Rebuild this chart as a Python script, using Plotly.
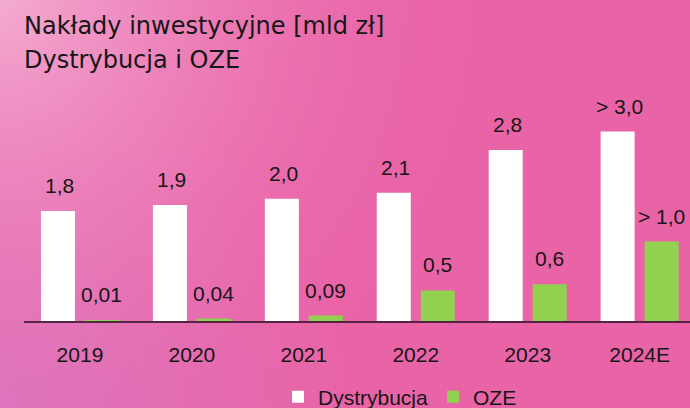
import base64

import plotly.graph_objects as go

# data
years = ["2019", "2020", "2021", "2022", "2023", "2024E"]
dystrybucja = [1.8, 1.9, 2.0, 2.1, 2.8, 3.1]
oze = [0.01, 0.04, 0.09, 0.5, 0.6, 1.3]
dystrybucja_labels = ["1,8", "1,9", "2,0", "2,1", "2,8", "> 3,0"]
oze_labels = ["0,01", "0,04", "0,09", "0,5", "0,6", "> 1,0"]
title_lines = ["Nakłady inwestycyjne [mld zł]", "Dystrybucja i OZE"]

W, H = 690, 408
L, R, T, B = 24, 0, 101, 87
PW, PH = W - L - R, H - T - B

TEXT = "#161616"
NUM_FONT = "Liberation Sans, Arial, sans-serif"
TITLE_FONT = "DejaVu Sans, sans-serif"


def _background_uri():
    """Pink slide background as an inline svg gradient."""
    svg = f"""<svg xmlns="http://www.w3.org/2000/svg" width="{W}" height="{H}" viewBox="0 0 {W} {H}" preserveAspectRatio="none">
<defs>
<radialGradient id="tl" cx="0" cy="0" r="{0.7 * W:.0f}" gradientUnits="userSpaceOnUse">
<stop offset="0" stop-color="#f4acd3" stop-opacity="1"/>
<stop offset="0.5" stop-color="#ef8cc0" stop-opacity="0.5"/>
<stop offset="1" stop-color="#ea66a8" stop-opacity="0"/>
</radialGradient>
<radialGradient id="bl" cx="0" cy="{H}" r="{0.5 * W:.0f}" gradientUnits="userSpaceOnUse">
<stop offset="0" stop-color="#d977c2" stop-opacity="0.9"/>
<stop offset="1" stop-color="#d977c2" stop-opacity="0"/>
</radialGradient>
</defs>
<rect width="{W}" height="{H}" fill="#e964a7"/>
<rect width="{W}" height="{H}" fill="url(#bl)"/>
<rect width="{W}" height="{H}" fill="url(#tl)"/>
</svg>"""
    return "data:image/svg+xml;base64," + base64.b64encode(svg.encode()).decode()


def px_x(px):
    return (px - L) / PW


def px_y(py):
    return (T + PH - py) / PH


fig = go.Figure()
fig.add_trace(go.Bar(
    x=years, y=dystrybucja, name="Dystrybucja",
    marker=dict(color="#ffffff", line=dict(width=0)),
))
fig.add_trace(go.Bar(
    x=years, y=oze, name="OZE",
    marker=dict(color="#92d050", line=dict(width=0)),
))

# value labels above the bars (category index, since "2019" would read as a number)
for i, (v, lab) in enumerate(zip(dystrybucja, dystrybucja_labels)):
    fig.add_annotation(x=i, y=v, text=lab, showarrow=False, xshift=-20, yshift=12,
                       yanchor="bottom", font=dict(family=NUM_FONT, size=21, color=TEXT))
for i, (v, lab) in enumerate(zip(oze, oze_labels)):
    fig.add_annotation(x=i, y=v, text=lab, showarrow=False, xshift=22, yshift=12,
                       yanchor="bottom", font=dict(family=NUM_FONT, size=21, color=TEXT))

# two-line title
for i, line in enumerate(title_lines):
    fig.add_annotation(
        xref="paper", yref="paper", x=px_x(22), y=px_y(26 + 34 * i),
        text=line, showarrow=False, xanchor="left", yanchor="middle",
        font=dict(family=TITLE_FONT, size=24, color=TEXT),
    )

fig.update_layout(
    width=W, height=H,
    margin=dict(l=L, r=R, t=T, b=B, autoexpand=False),
    paper_bgcolor="#e964a7",
    plot_bgcolor="rgba(0,0,0,0)",
    barmode="group",
    bargap=0.214,
    bargroupgap=0.227,
    showlegend=True,
    legend=dict(
        orientation="h", xref="container", yref="container",
        x=278 / W, xanchor="left", y=1 - 397 / H, yanchor="middle",
        bgcolor="rgba(0,0,0,0)",
        font=dict(family=NUM_FONT, size=21, color=TEXT),
    ),
    images=[dict(
        source=_background_uri(), xref="paper", yref="paper",
        x=px_x(-2), y=px_y(-2), sizex=(W + 4) / PW, sizey=(H + 4) / PH,
        xanchor="left", yanchor="top", sizing="stretch", layer="below",
    )],
)
fig.update_xaxes(
    type="category", range=[-0.5, 5.45],
    showline=True, linecolor="rgba(20,10,20,0.7)", linewidth=2,
    showgrid=False, zeroline=False, ticks="",
    tickfont=dict(family=NUM_FONT, size=21, color=TEXT),
    ticklabelstandoff=14,
)
fig.update_yaxes(range=[0, 3.6], visible=False, showgrid=False, zeroline=False)

# drop the default page margin so the figure sits at the window corner
fig.write_html(
    "out.html",
    config={"displayModeBar": False},
    post_script="document.body.style.margin='0';",
)
